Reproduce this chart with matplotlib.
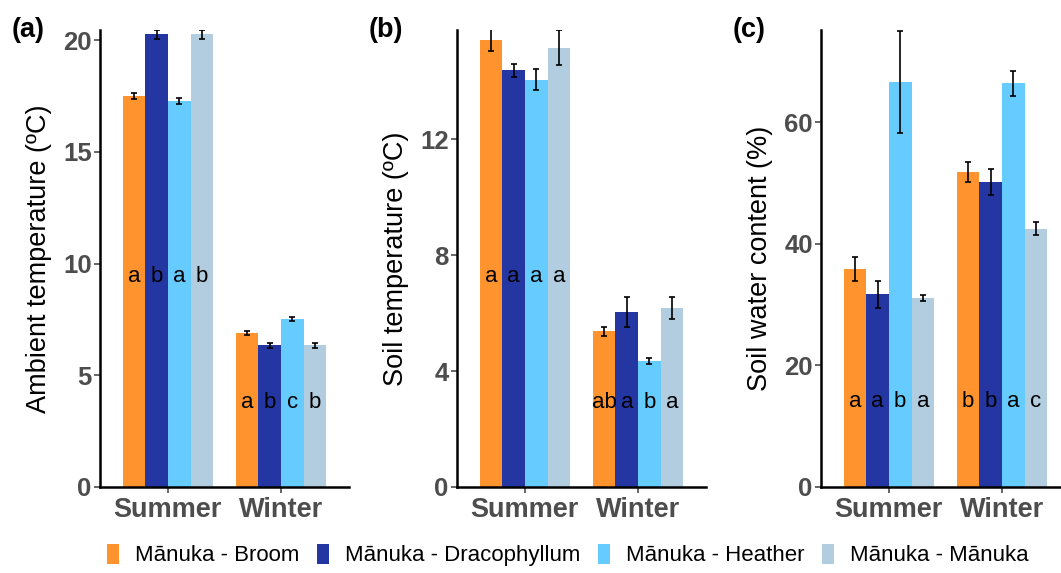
import matplotlib.pyplot as plt
import numpy as np
from matplotlib.patches import Patch

plt.rcParams['font.family'] = ['Liberation Sans', 'DejaVu Sans']

seasons = ['Summer', 'Winter']
sites = ['Mānuka - Broom', 'Mānuka - Dracophyllum', 'Mānuka - Heather', 'Mānuka - Mānuka']
colors = ['#FF942E', '#2436A2', '#66CCFF', '#B3CDE0']

# values per site: [Summer, Winter]
ambient_mean = [[17.5, 6.89], [20.27, 6.34], [17.28, 7.52], [20.27, 6.34]]
ambient_se = [[0.13, 0.1], [0.2, 0.1], [0.15, 0.1], [0.2, 0.1]]
ambient_letters = [['a', 'a'], ['b', 'b'], ['a', 'c'], ['b', 'b']]

soil_temp_mean = [[15.43, 5.37], [14.39, 6.04], [14.07, 4.34], [15.17, 6.18]]
soil_temp_se = [[0.39, 0.17], [0.23, 0.52], [0.36, 0.11], [0.6, 0.37]]
soil_temp_letters = [['a', 'ab'], ['a', 'a'], ['a', 'b'], ['a', 'a']]

swc_mean = [[35.9, 51.8], [31.7, 50.2], [66.7, 66.4], [31.1, 42.5]]
swc_se = [[2.0, 1.65], [2.2, 2.2], [8.4, 2.1], [0.5, 1.1]]
swc_letters = [['a', 'b'], ['a', 'b'], ['b', 'a'], ['a', 'c']]

panels = [
    ('(a)', 'Ambient temperature (ºC)', ambient_mean, ambient_se, ambient_letters,
     [9.43, 3.77], 20.46, [0, 5, 10, 15, 20]),
    ('(b)', 'Soil temperature (ºC)', soil_temp_mean, soil_temp_se, soil_temp_letters,
     [7.28, 2.93], 15.78, [0, 4, 8, 12]),
    ('(c)', 'Soil water content (%)', swc_mean, swc_se, swc_letters,
     [14.0, 14.0], 75.2, [0, 20, 40, 60]),
]

W, H = 1061, 573
fig = plt.figure(figsize=(W / 100, H / 100), dpi=100)

lefts = [100, 457, 821]
x = np.arange(len(seasons))
width = 0.2
offsets = [-0.3, -0.1, 0.1, 0.3]

for left, (tag, ylabel, mean, se, letters, lety, ytop, yticks) in zip(lefts, panels):
    ax = fig.add_axes([left / W, 1 - 487 / H, 249 / W, 457 / H])
    for i in range(len(sites)):
        ax.bar(x + offsets[i], mean[i], width, color=colors[i])
        ax.errorbar(x + offsets[i], mean[i], yerr=se[i], fmt='none',
                    ecolor='black', elinewidth=1.2, capsize=2.5, capthick=1.2)
        for j in range(len(seasons)):
            ax.text(x[j] + offsets[i], lety[j], letters[i][j], ha='center',
                    va='center', fontsize=16, color='black')
    ax.set_xlim(-0.6, 1.6)
    ax.set_ylim(0, ytop)
    ax.set_yticks(yticks)
    ax.set_xticks(x)
    ax.set_xticklabels(seasons)
    for s in ['top', 'right']:
        ax.spines[s].set_visible(False)
    for s in ['left', 'bottom']:
        ax.spines[s].set_linewidth(1.8)
        ax.spines[s].set_color('black')
    ax.tick_params(axis='y', labelsize=18.5, colors='#4D4D4D', length=4, width=1.2, pad=2)
    ax.tick_params(axis='x', labelsize=19.5, colors='#4D4D4D', length=4, width=1.2, pad=3)
    for lab in ax.get_xticklabels() + ax.get_yticklabels():
        lab.set_fontweight('bold')
    ax.set_ylabel(ylabel, fontsize=19.5, color='black', labelpad=8)
    fig.text((left - 88) / W, 1 - 30 / H, tag, fontsize=19.5, fontweight='bold',
             ha='left', va='center')

handles = [Patch(facecolor=c) for c in colors]
fig.legend(handles, sites, loc='center', bbox_to_anchor=(0.535, 1 - 555 / H),
           ncol=4, frameon=False, fontsize=16, handlelength=0.55, handleheight=1.0,
           handletextpad=0.7, columnspacing=0.8)

fig.savefig('out.png', dpi=100)
